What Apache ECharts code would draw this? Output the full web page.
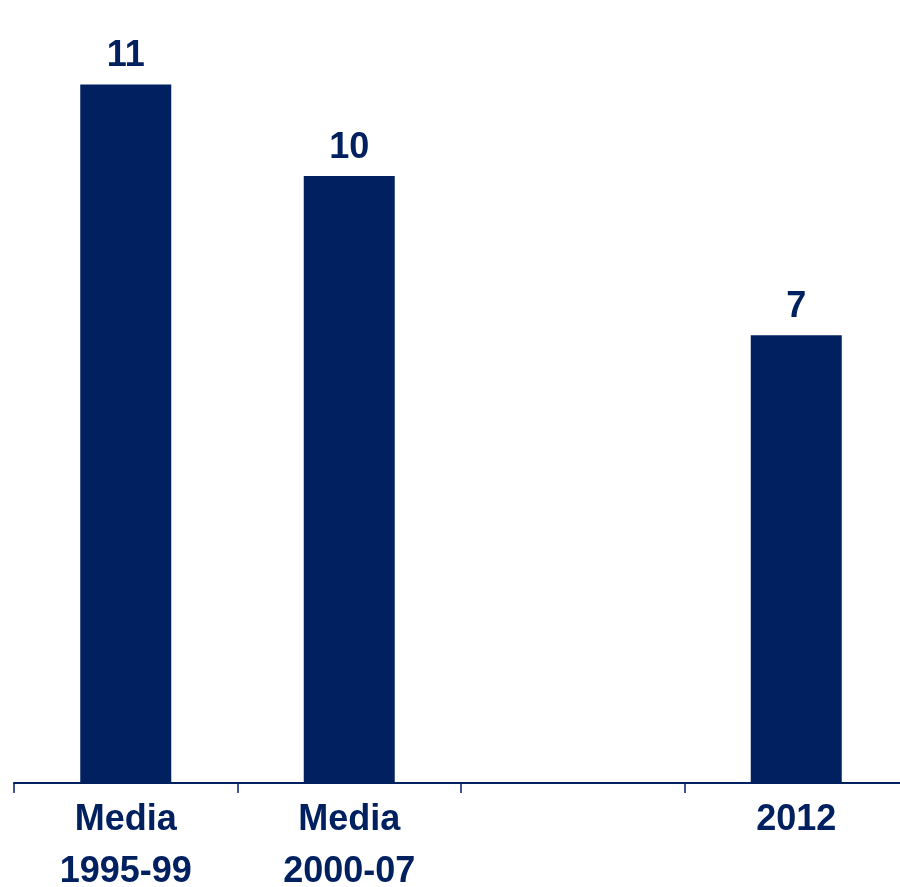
<!DOCTYPE html>
<html>
<head>
<meta charset="utf-8">
<script src="https://cdn.jsdelivr.net/npm/echarts@6/dist/echarts.min.js"></script>
<style>html,body{margin:0;padding:0;background:#fff}#c{width:900px;height:887px}</style>
</head>
<body>
<div id="c"></div>
<script>
const categories = ['Media\n1995-99', 'Media\n2000-07', '', '2012'];
const values = [11.0, 9.56, null, 7.05];
const valueLabels = ['11', '10', '', '7'];

const navy = '#002060';
const font = '"Liberation Sans Narrow", "Arial Narrow", "Liberation Sans", Arial, sans-serif';
const chart = echarts.init(document.getElementById('c'));
chart.setOption({
  animation: false,
  grid: { left: 14, width: 894, top: 0, height: 783, containLabel: false, outerBoundsMode: 'none' },
  xAxis: {
    type: 'category',
    data: categories,
    axisLine: { lineStyle: { color: navy, width: 2 } },
    axisTick: { show: true, length: 10, lineStyle: { color: navy, width: 1.5 } },
    axisLabel: {
      color: navy, fontFamily: font, fontWeight: 'bold', fontSize: 36,
      lineHeight: 52, margin: 11, interval: 0
    }
  },
  yAxis: { type: 'value', min: 0, max: 12.33, show: false, splitLine: { show: false } },
  series: [{
    type: 'bar',
    data: values,
    barWidth: 91,
    itemStyle: { color: navy },
    label: {
      show: true, position: 'top', distance: 10,
      color: navy, fontFamily: font, fontWeight: 'bold', fontSize: 36,
      formatter: p => valueLabels[p.dataIndex]
    }
  }]
});
</script>
</body>
</html>
